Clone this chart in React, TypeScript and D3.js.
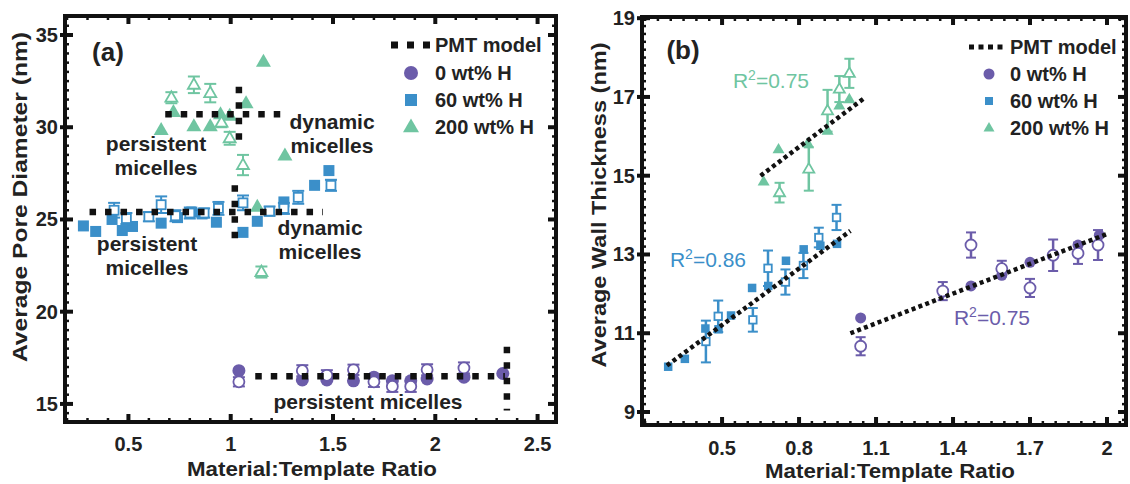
import React, { useEffect, useRef } from "react";
import * as d3 from "d3";

type Pt = [number, number];
type ErrPt = [number, number, number];

// ---------- panel (a): average pore diameter ----------
const poreXTicks = [0.5, 1, 1.5, 2, 2.5];
const poreYTicks = [15, 20, 25, 30, 35];

const poreH0Filled: Pt[] = [
  [1.04, 16.8], [1.35, 16.3], [1.47, 16.3], [1.6, 16.25], [1.7, 16.45],
  [1.79, 16.25], [1.88, 16.25], [1.96, 16.35], [2.14, 16.45], [2.33, 16.65],
];
const poreH0Open: ErrPt[] = [
  [1.04, 16.2, 0.25], [1.35, 16.8, 0.3], [1.47, 16.55, 0.28], [1.6, 16.85, 0.28],
  [1.7, 16.2, 0.28], [1.79, 15.95, 0.3], [1.88, 15.95, 0.3], [1.96, 16.85, 0.3],
  [2.14, 16.95, 0.3],
];
const poreH60Filled: Pt[] = [
  [0.28, 24.65], [0.34, 24.35], [0.42, 25.0], [0.47, 24.4], [0.52, 24.62],
  [0.66, 24.8], [0.74, 25.1], [0.81, 25.4], [0.86, 25.3], [0.93, 24.85],
  [1.06, 24.3], [1.13, 24.9], [1.26, 25.95], [1.41, 26.85], [1.48, 27.65],
];
const poreH60Open: ErrPt[] = [
  [0.43, 25.5, 0.4], [0.49, 25.05, 0.3], [0.6, 25.15, 0.25], [0.66, 25.8, 0.45],
  [0.73, 25.2, 0.3], [0.8, 25.35, 0.3], [0.87, 25.35, 0.25], [0.94, 25.6, 0.35],
  [1.06, 25.9, 0.4], [1.19, 25.45, 0.25], [1.26, 25.6, 0.3], [1.33, 26.2, 0.35],
  [1.49, 26.85, 0.3],
];
const poreH200Filled: Pt[] = [
  [0.66, 29.85], [0.72, 30.82], [0.82, 30.05], [0.9, 30.05], [0.95, 30.7],
  [0.995, 30.62], [1.075, 31.3], [1.13, 25.68], [1.16, 33.55], [1.265, 28.47],
];
const poreH200Open: ErrPt[] = [
  [0.71, 31.6, 0.3], [0.82, 32.3, 0.45], [0.9, 31.85, 0.5], [0.955, 30.25, 0.25],
  [0.995, 29.4, 0.35], [1.06, 27.95, 0.55], [1.15, 22.15, 0.3],
];
// PMT model segments
const poreModel: Pt[][] = [
  [[0.68, 30.7], [1.27, 30.7]], [[1.04, 32.2], [1.04, 28.9]],
  [[0.31, 25.4], [1.45, 25.4]], [[1.02, 26.85], [1.02, 23.5]],
  [[1.12, 16.5], [2.34, 16.5]], [[2.35, 18.1], [2.35, 14.65]],
];

// ---------- panel (b): average wall thickness ----------
const wallXTicks = [0.5, 0.8, 1.1, 1.4, 1.7, 2];
const wallYTicks = [9, 11, 13, 15, 17, 19];

const wallH0Filled: Pt[] = [
  [1.04, 11.39], [1.47, 12.2], [1.59, 12.47], [1.7, 12.8], [1.887, 13.24], [1.97, 13.49],
];
const wallH0Open: ErrPt[] = [
  [1.04, 10.67, 0.23], [1.36, 12.07, 0.23], [1.47, 13.24, 0.32], [1.59, 12.64, 0.2],
  [1.7, 12.15, 0.23], [1.79, 12.98, 0.4], [1.887, 13.03, 0.27], [1.965, 13.24, 0.38],
];
const wallH60Filled: Pt[] = [
  [0.29, 10.15], [0.355, 10.35], [0.435, 11.12], [0.486, 11.1], [0.535, 11.45],
  [0.617, 12.15], [0.68, 12.2], [0.749, 12.84], [0.818, 13.13], [0.883, 13.22],
  [0.948, 13.27],
];
const wallH60Open: ErrPt[] = [
  [0.437, 10.79, 0.53], [0.485, 11.43, 0.4], [0.62, 11.34, 0.3], [0.679, 12.65, 0.45],
  [0.747, 12.3, 0.32], [0.817, 12.72, 0.32], [0.877, 13.43, 0.25], [0.946, 13.94, 0.32],
];
const wallH200Filled: Pt[] = [
  [0.662, 14.85], [0.72, 15.67], [0.834, 15.82], [0.911, 16.14], [0.957, 16.78], [0.996, 16.94],
];
const wallH200Open: ErrPt[] = [
  [0.724, 14.57, 0.25], [0.838, 15.17, 0.55], [0.911, 16.65, 0.53], [0.957, 17.2, 0.33],
  [0.996, 17.6, 0.37],
];
const wallModel: Pt[][] = [
  [[1.0, 11.0], [2.0, 13.52]],
  [[0.285, 10.18], [1.0, 13.6]],
  [[0.65, 15.0], [1.05, 16.95]],
];
const wallR2 = ["0.75", "0.86", "0.75"];

const seriesNames = ["0 wt% H", "60 wt% H", "200 wt% H"];
const modelName = "PMT model";

const COLORS = ["#6b5caa", "#3b8fc9", "#6fc5a1"];
const FONT = "'Liberation Sans', Arial, sans-serif";
const W = 1130;
const H = 484;

type Shape = "circle" | "square" | "triangle";
const SHAPES: Shape[] = ["circle", "square", "triangle"];

function marker(g: any, shape: Shape, cx: number, cy: number, size: number, fill: string, stroke: string, sw: number) {
  if (shape === "circle") {
    g.append("circle").attr("cx", cx).attr("cy", cy).attr("r", size / 2)
      .attr("fill", fill).attr("stroke", stroke).attr("stroke-width", sw);
  } else if (shape === "square") {
    g.append("rect").attr("x", cx - size / 2).attr("y", cy - size / 2)
      .attr("width", size).attr("height", size)
      .attr("fill", fill).attr("stroke", stroke).attr("stroke-width", sw);
  } else {
    const h = size * 0.866;
    g.append("path")
      .attr("d", `M${cx},${cy - h * 0.62}L${cx - size / 2},${cy + h * 0.38}L${cx + size / 2},${cy + h * 0.38}Z`)
      .attr("fill", fill).attr("stroke", stroke).attr("stroke-width", sw);
  }
}

function minorValues(dom: number[], step: number) {
  const out: number[] = [];
  for (let i = Math.ceil(dom[0] / step - 1e-9); i * step <= dom[1] + 1e-9; i++) out.push(+(i * step).toFixed(4));
  return out;
}

function drawFrame(g: any, x: any, y: any, xTicks: number[], xStep: number, yTicks: number[], yStep: number, xLabelY: number) {
  const [x0, x1] = x.range();
  const [y0, y1] = y.range();
  const tick = (ax: number, ay: number, bx: number, by: number, w: number) =>
    g.append("line").attr("x1", ax).attr("y1", ay).attr("x2", bx).attr("y2", by)
      .attr("stroke", "#111").attr("stroke-width", w);

  minorValues(x.domain(), xStep).forEach((v) => {
    const px = x(v);
    tick(px, y0, px, y0 - 4, 2.5);
    tick(px, y1, px, y1 + 4, 2.5);
  });
  minorValues(y.domain(), yStep).forEach((v) => {
    const py = y(v);
    tick(x0, py, x0 + 4, py, 2.5);
    tick(x1, py, x1 - 4, py, 2.5);
  });
  xTicks.forEach((v) => {
    const px = x(v);
    tick(px, y0, px, y0 - 8, 4);
    tick(px, y1, px, y1 + 8, 4);
    g.append("text").attr("x", px).attr("y", xLabelY).attr("text-anchor", "middle")
      .attr("font-size", 20).attr("font-weight", "bold").attr("fill", "#222").text(String(v));
  });
  yTicks.forEach((v) => {
    const py = y(v);
    tick(x0 - 5, py, x0 + 8, py, 4);
    tick(x1, py, x1 - 8, py, 4);
    g.append("text").attr("x", x0 - 7).attr("y", py + 7).attr("text-anchor", "end")
      .attr("font-size", 20).attr("font-weight", "bold").attr("fill", "#222").text(String(v));
  });
  g.append("rect").attr("x", x0).attr("y", y1).attr("width", x1 - x0).attr("height", y0 - y1)
    .attr("fill", "none").attr("stroke", "#111").attr("stroke-width", 4);
}

function drawSeries(g: any, x: any, y: any, shape: Shape, color: string, filled: Pt[], open: ErrPt[], s: any) {
  filled.forEach(([a, b]) => marker(g, shape, x(a), y(b), s.filled, color, "none", 0));
  open.forEach(([a, b, e]) => {
    const px = x(a);
    g.append("line").attr("x1", px).attr("x2", px).attr("y1", y(b - e)).attr("y2", y(b + e))
      .attr("stroke", color).attr("stroke-width", s.bar);
    [b - e, b + e].forEach((v) =>
      g.append("line").attr("x1", px - s.cap).attr("x2", px + s.cap).attr("y1", y(v)).attr("y2", y(v))
        .attr("stroke", color).attr("stroke-width", 2));
    marker(g, shape, px, y(b), s.open, "#fff", color, 1.8);
  });
}

function modelLine(g: any, x: any, y: any, seg: Pt[], width: number, dash: string) {
  g.append("line")
    .attr("x1", x(seg[0][0])).attr("y1", y(seg[0][1]))
    .attr("x2", x(seg[1][0])).attr("y2", y(seg[1][1]))
    .attr("stroke", "#111").attr("stroke-width", width).attr("stroke-dasharray", dash);
}

function label(g: any, px: number, py: number, txt: string, size: number, weight = "bold", anchor = "middle") {
  return g.append("text").attr("x", px).attr("y", py).attr("text-anchor", anchor)
    .attr("font-size", size).attr("font-weight", weight).attr("fill", "#222").text(txt);
}

export default function App() {
  const ref = useRef<SVGSVGElement>(null);

  useEffect(() => {
    const svg = d3.select(ref.current);
    svg.selectAll("*").remove();
    svg.append("rect").attr("width", W).attr("height", H).attr("fill", "#fff");
    const root = svg.append("g").attr("font-family", FONT);

    // ----- panel (a) -----
    const xa = d3.scaleLinear().domain([0.19, 2.59]).range([65, 556]);
    const ya = d3.scaleLinear().domain([14.02, 36.03]).range([422, 16]);
    const ga = root.append("g");
    const sa = { filled: 13, open: 11, cap: 6, bar: 2 };
    const sq = { filled: 11, open: 9, cap: 6, bar: 2 };
    const st = { filled: 15, open: 12, cap: 6, bar: 2 };
    drawSeries(ga, xa, ya, "circle", COLORS[0], poreH0Filled, poreH0Open, sa);
    drawSeries(ga, xa, ya, "square", COLORS[1], poreH60Filled, poreH60Open, sq);
    drawSeries(ga, xa, ya, "triangle", COLORS[2], poreH200Filled, poreH200Open, st);
    poreModel.forEach((seg) => modelLine(ga, xa, ya, seg, 6.5, "6.5 9"));
    drawFrame(ga, xa, ya, poreXTicks, 0.1, poreYTicks, 0.5, 451);

    label(ga, 108, 61, "(a)", 26);
    label(ga, 156, 151, "persistent", 21);
    label(ga, 156, 175, "micelles", 21);
    label(ga, 332, 129, "dynamic", 21);
    label(ga, 332, 153, "micelles", 21);
    label(ga, 147, 251, "persistent", 21);
    label(ga, 147, 275, "micelles", 21);
    label(ga, 320, 235, "dynamic", 21);
    label(ga, 320, 259, "micelles", 21);
    label(ga, 368, 409, "persistent micelles", 21);

    // legend (a)
    ga.append("line").attr("x1", 391).attr("x2", 431).attr("y1", 45).attr("y2", 45)
      .attr("stroke", "#111").attr("stroke-width", 7).attr("stroke-dasharray", "7 9");
    label(ga, 435, 52, modelName, 20, "bold", "start");
    seriesNames.forEach((n, i) => {
      const cy = 73 + i * 27;
      marker(ga, SHAPES[i], 411, cy, [14, 12, 16][i], COLORS[i], "none", 0);
      label(ga, 435, cy + 7, n, 20, "bold", "start");
    });

    label(ga, 312, 476, "Material:Template Ratio", 20).attr("textLength", 250).attr("lengthAdjust", "spacingAndGlyphs");
    label(ga, 0, 0, "Average Pore Diameter (nm)", 20)
      .attr("transform", "translate(27,197) rotate(-90)")
      .attr("textLength", 330).attr("lengthAdjust", "spacingAndGlyphs");

    // ----- panel (b) -----
    const xb = d3.scaleLinear().domain([0.188, 2.074]).range([642, 1126]);
    const yb = d3.scaleLinear().domain([8.67, 19.03]).range([425, 17]);
    const gb = root.append("g");
    const sbc = { filled: 11, open: 11, cap: 5, bar: 2.5 };
    const sbs = { filled: 8.5, open: 7.5, cap: 5, bar: 2.5 };
    const sbt = { filled: 12, open: 11, cap: 5, bar: 2.5 };
    drawSeries(gb, xb, yb, "circle", COLORS[0], wallH0Filled, wallH0Open, sbc);
    drawSeries(gb, xb, yb, "square", COLORS[1], wallH60Filled, wallH60Open, sbs);
    drawSeries(gb, xb, yb, "triangle", COLORS[2], wallH200Filled, wallH200Open, sbt);
    wallModel.forEach((seg) => modelLine(gb, xb, yb, seg, 4.5, "4 3.3"));
    drawFrame(gb, xb, yb, wallXTicks, 0.05, wallYTicks, 0.2, 455);

    label(gb, 683, 59, "(b)", 26);
    // R² labels
    const r2Pos = [[992, 325], [708, 267], [771, 88]];
    wallR2.forEach((v, i) => {
      const t = gb.append("text").attr("x", r2Pos[i][0]).attr("y", r2Pos[i][1])
        .attr("text-anchor", "middle").attr("font-size", 21).attr("fill", COLORS[i]);
      t.append("tspan").text("R");
      t.append("tspan").attr("dy", -8).attr("font-size", 14).text("2");
      t.append("tspan").attr("dy", 8).text("=" + v);
    });

    // legend (b)
    gb.append("line").attr("x1", 969).attr("x2", 1003).attr("y1", 47).attr("y2", 47)
      .attr("stroke", "#111").attr("stroke-width", 5).attr("stroke-dasharray", "5 4.5");
    label(gb, 1010, 54, modelName, 20, "bold", "start");
    seriesNames.forEach((n, i) => {
      const cy = 74 + i * 27;
      marker(gb, SHAPES[i], 989, cy, [11, 8, 11][i], COLORS[i], "none", 0);
      label(gb, 1010, cy + 7, n, 20, "bold", "start");
    });

    label(gb, 890, 478, "Material:Template Ratio", 20).attr("textLength", 250).attr("lengthAdjust", "spacingAndGlyphs");
    label(gb, 0, 0, "Average Wall Thickness (nm)", 20)
      .attr("transform", "translate(606,205) rotate(-90)")
      .attr("textLength", 325).attr("lengthAdjust", "spacingAndGlyphs");
  }, []);

  return (
    <svg ref={ref} width={W} height={H} style={{ position: "absolute", left: 0, top: 0, display: "block" }} />
  );
}
